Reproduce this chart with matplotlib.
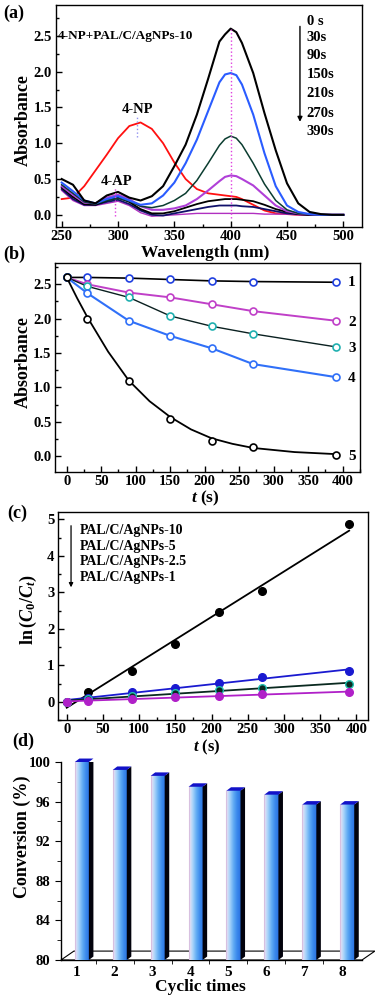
import numpy as np
import matplotlib
matplotlib.use('Agg')
import matplotlib.pyplot as plt
from matplotlib.patches import Polygon
from matplotlib.colors import LinearSegmentedColormap
from matplotlib.ticker import MultipleLocator, FixedLocator

plt.rcParams['font.family'] = 'Liberation Serif'
plt.rcParams['font.weight'] = 'bold'
plt.rcParams['mathtext.fontset'] = 'custom'
plt.rcParams['mathtext.rm'] = 'Liberation Serif:bold'
plt.rcParams['mathtext.it'] = 'Liberation Serif:italic:bold'
plt.rcParams['axes.linewidth'] = 1.0

# ---- (a) UV-vis spectra
wl = [250, 260, 270, 280, 290, 300, 310, 320, 330, 340, 350, 360, 370, 380, 390,
      395, 400, 405, 410, 420, 430, 440, 450, 460, 470, 480, 490, 500]
abs_4np = [0.22, 0.24, 0.40, 0.62, 0.84, 1.07, 1.24, 1.29, 1.20, 1.00, 0.73, 0.50, 0.36, 0.30, 0.28,
           0.27, 0.26, 0.25, 0.22, 0.14, 0.06, 0.02, 0.01, 0, 0, 0, 0, 0]
abs_0s = [0.50, 0.42, 0.20, 0.16, 0.27, 0.32, 0.24, 0.20, 0.26, 0.40, 0.68, 0.98, 1.40, 1.90, 2.42,
          2.52, 2.60, 2.55, 2.40, 1.98, 1.42, 0.90, 0.44, 0.16, 0.04, 0.01, 0, 0]
abs_30s = [0.45, 0.33, 0.20, 0.16, 0.22, 0.26, 0.20, 0.14, 0.16, 0.27, 0.45, 0.72, 1.05, 1.45, 1.85,
           1.96, 1.98, 1.95, 1.82, 1.40, 0.86, 0.40, 0.13, 0.04, 0.01, 0, 0, 0]
abs_90s = [0.42, 0.30, 0.18, 0.15, 0.20, 0.23, 0.19, 0.12, 0.10, 0.13, 0.20, 0.30, 0.48, 0.72, 0.97,
           1.06, 1.10, 1.07, 0.98, 0.72, 0.43, 0.20, 0.07, 0.02, 0.01, 0, 0, 0]
abs_150s = [0.40, 0.28, 0.17, 0.16, 0.24, 0.28, 0.22, 0.12, 0.07, 0.07, 0.09, 0.13, 0.22, 0.34, 0.47,
            0.53, 0.55, 0.54, 0.50, 0.41, 0.27, 0.13, 0.05, 0.02, 0.01, 0, 0, 0]
abs_210s = [0.38, 0.25, 0.15, 0.14, 0.20, 0.24, 0.18, 0.08, 0.02, 0.02, 0.05, 0.10, 0.15, 0.19, 0.21,
            0.22, 0.22, 0.22, 0.21, 0.19, 0.14, 0.08, 0.04, 0.01, 0, 0, 0, 0]
abs_270s = [0.36, 0.22, 0.14, 0.14, 0.18, 0.21, 0.15, 0.06, 0.00, -0.01, 0.02, 0.05, 0.08, 0.11, 0.13,
            0.13, 0.13, 0.13, 0.12, 0.11, 0.08, 0.05, 0.02, 0.01, 0, 0, 0, 0]
abs_390s = [0.34, 0.20, 0.13, 0.13, 0.16, 0.19, 0.13, 0.03, -0.02, -0.01, 0.00, 0.01, 0.02, 0.02, 0.02,
            0.02, 0.02, 0.02, 0.02, 0.02, 0.01, 0.01, 0.01, 0, 0, 0, 0, 0]
time_labels = ['0 s', '30s', '90s', '150s', '210s', '270s', '390s']

# ---- (b) absorbance at 400 nm vs time
t = [0, 30, 90, 150, 210, 270, 390]
a1 = [2.60, 2.60, 2.59, 2.57, 2.55, 2.54, 2.53]
a2 = [2.60, 2.50, 2.38, 2.31, 2.21, 2.11, 1.97]
a3 = [2.60, 2.47, 2.31, 2.04, 1.89, 1.78, 1.59]
a4 = [2.60, 2.37, 1.97, 1.75, 1.57, 1.34, 1.15]
a5 = [2.60, 1.99, 1.10, 0.54, 0.22, 0.13, 0.02]
t_fit5 = [0, 15, 30, 60, 90, 120, 150, 180, 210, 240, 270, 330, 390]
a_fit5 = [2.60, 2.30, 2.02, 1.52, 1.10, 0.80, 0.57, 0.39, 0.26, 0.18, 0.12, 0.06, 0.03]

# ---- (c) ln(C0/Ct) vs time
t_c = [0, 30, 90, 150, 210, 270, 390]
ln_10 = [0.0, 0.26, 0.85, 1.57, 2.46, 3.03, 4.87]
ln_5 = [0.0, 0.10, 0.28, 0.39, 0.51, 0.67, 0.84]
ln_25 = [0.0, 0.07, 0.15, 0.25, 0.31, 0.37, 0.50]
ln_1 = [0.0, 0.03, 0.08, 0.12, 0.16, 0.20, 0.27]
samples = ['PAL/C/AgNPs-10', 'PAL/C/AgNPs-5', 'PAL/C/AgNPs-2.5', 'PAL/C/AgNPs-1']

# ---- (d) recycling
cycles = [1, 2, 3, 4, 5, 6, 7, 8]
conversion = [100.0, 99.2, 98.6, 97.5, 97.1, 96.7, 95.7, 95.7]


def box(l, t_, r, b):
    return [l / 375, 1 - b / 997, (r - l) / 375, (b - t_) / 997]


def style(ax):
    ax.tick_params(which='both', direction='in', labelsize=10.5, width=1, pad=2.5)
    ax.tick_params(which='major', length=4)
    ax.tick_params(which='minor', length=2)
    for lab in ax.get_xticklabels() + ax.get_yticklabels():
        lab.set_fontweight('bold')


fig = plt.figure(figsize=(3.75, 9.97), dpi=100)

# (a)
ax = fig.add_axes(box(55.5, 5, 361.7, 227))
ax.plot(wl, abs_4np, color='#ff1010', lw=1.3)
ax.plot(wl, abs_390s, color='#b030c0', lw=1.0)
ax.plot(wl, abs_270s, color='#10106a', lw=1.3)
ax.plot(wl, abs_210s, color='black', lw=1.3)
ax.plot(wl, abs_150s, color='#b040d8', lw=1.5)
ax.plot(wl, abs_90s, color='#0b3d30', lw=1.1)
ax.plot(wl, abs_30s, color='#2a5cff', lw=1.5)
ax.plot(wl, abs_0s, color='black', lw=1.5)
ax.plot([400, 400], [-0.05, 2.6], color='#e040e0', lw=1, ls=':')
ax.plot([317, 317], [1.08, 1.38], color='#9090f0', lw=1, ls=':')
ax.plot([297, 297], [-0.01, 0.37], color='#e040e0', lw=1, ls=':')
ax.text(246.5, 2.5, '4-NP+PAL/C/AgNPs-10', fontsize=9.5, va='center', ha='left')
ax.text(317.5, 1.47, '4-NP', fontsize=10.5, ha='center', va='center')
ax.text(299, 0.46, '4-AP', fontsize=10.5, ha='center', va='center')
for lab, y in zip(time_labels, [2.70, 2.47, 2.23, 1.96, 1.69, 1.41, 1.16]):
    ax.text(467.5, y, lab, fontsize=10.5, ha='left', va='center')
ax.annotate('', xy=(461.5, 1.26), xytext=(461.5, 2.67),
            arrowprops=dict(arrowstyle='-|>', color='black', lw=1, mutation_scale=7))
ax.set_xlim(244.5, 516.3)
ax.set_ylim(-0.17, 2.93)
ax.xaxis.set_major_locator(MultipleLocator(50))
ax.xaxis.set_minor_locator(MultipleLocator(25))
ax.yaxis.set_major_locator(MultipleLocator(0.5))
ax.yaxis.set_minor_locator(MultipleLocator(0.25))
ax.yaxis.set_major_formatter('{x:.1f}')
style(ax)
fig.text(23 / 375, 1 - 120 / 997, 'Absorbance', rotation=90, fontsize=13, ha='center', va='center')
fig.text(205 / 375, 1 - 253 / 997, 'Wavelength (nm)', fontsize=12.5, ha='center', va='center')
fig.text(3 / 375, 1 - 13 / 997, '(a)', fontsize=13, ha='left', va='center')

# (b)
ax = fig.add_axes(box(55, 263, 360, 472))
ax.plot(t, a1, color='black', lw=1.2, marker='o', ms=5, mfc='white', mec='#2040e0', mew=1.2)
ax.plot(t, a2, color='#c040c8', lw=1.4, marker='o', ms=5, mfc='white', mec='#c040c8', mew=1.2)
ax.plot(t, a3, color='#0a2020', lw=1.0, marker='o', ms=5, mfc='white', mec='#20b0b0', mew=1.2)
ax.plot(t, a4, color='#3070f8', lw=1.5, marker='o', ms=5, mfc='white', mec='#3070f8', mew=1.2)
ax.plot(t_fit5, a_fit5, color='black', lw=1.3)
ax.plot(t, a5, ls='none', marker='o', ms=5, mfc='white', mec='black', mew=1.2)
for lab, y in zip(['1', '2', '3', '4', '5'], [2.53, 1.95, 1.56, 1.13, 0.0]):
    ax.text(413, y, lab, fontsize=11, ha='center', va='center')
ax.set_xlim(-17, 425)
ax.set_ylim(-0.23, 2.81)
ax.xaxis.set_major_locator(MultipleLocator(50))
ax.xaxis.set_minor_locator(MultipleLocator(25))
ax.yaxis.set_major_locator(MultipleLocator(0.5))
ax.yaxis.set_minor_locator(MultipleLocator(0.25))
ax.yaxis.set_major_formatter('{x:.1f}')
style(ax)
fig.text(23 / 375, 1 - 362 / 997, 'Absorbance', rotation=90, fontsize=13, ha='center', va='center')
fig.text(205 / 375, 1 - 498 / 997, r'$t$ (s)', fontsize=12.5, ha='center', va='center')
fig.text(3 / 375, 1 - 254 / 997, '(b)', fontsize=13, ha='left', va='center')

# (c)
ax = fig.add_axes(box(58, 512, 368, 720))
series_c = [(ln_10, 'black', 'black'), (ln_5, '#1a1ad0', '#1a1ad0'),
            (ln_25, '#0a2a20', '#20c0b0'), (ln_1, '#b020c8', '#b020c8')]
for vals, lc, mc in series_c:
    k, b0 = np.polyfit(t_c, vals, 1)
    ax.plot([0, 390], [b0, b0 + k * 390], color=lc, lw=1.3)
for vals, lc, mc in series_c:
    ax.plot(t_c, vals, ls='none', marker='o', ms=5.5, mfc=lc, mec=mc, mew=1.0)
for lab, y in zip(samples, [4.69, 4.25, 3.84, 3.40]):
    ax.text(18, y, lab, fontsize=10, ha='left', va='center')
ax.annotate('', xy=(6, 3.06), xytext=(6, 4.9),
            arrowprops=dict(arrowstyle='-|>', color='black', lw=0.9, mutation_scale=6))
ax.set_xlim(-12, 416)
ax.set_ylim(-0.5, 5.2)
ax.xaxis.set_major_locator(MultipleLocator(50))
ax.xaxis.set_minor_locator(MultipleLocator(25))
ax.yaxis.set_major_locator(MultipleLocator(1))
ax.yaxis.set_minor_locator(MultipleLocator(0.5))
style(ax)
fig.text(28 / 375, 1 - 610 / 997, r'ln$\,$($C_0$/$C_t$)', rotation=90, fontsize=13, ha='center', va='center')
fig.text(207 / 375, 1 - 747 / 997, r'$t$ (s)', fontsize=12, ha='center', va='center')
fig.text(7 / 375, 1 - 513 / 997, '(c)', fontsize=13, ha='left', va='center')

# (d) pseudo-3D bars
ax = fig.add_axes(box(61, 762, 362, 960))
x_lo, x_hi = 0.585, 8.525
dxf, dyf = 0.34, 0.9
ax.add_patch(Polygon([(x_lo, 80), (x_hi, 80), (x_hi + dxf, 80 + dyf), (x_lo + dxf, 80 + dyf)],
                     closed=True, fc='white', ec='black', lw=0.8, clip_on=False, zorder=1))
cmap = LinearSegmentedColormap.from_list('bar', ['#f2e2f4', '#a8d4fa', '#62acf4', '#3a88ec', '#2a70e0'])
grad = np.linspace(0, 1, 64)[None, :]
dxb, dyb = 0.12, 0.35
for c, v in zip(cycles, conversion):
    x0, x1 = c - 0.05, c + 0.32
    ax.imshow(grad, cmap=cmap, extent=(x0, x1, 80, v), aspect='auto', zorder=3,
              interpolation='bilinear')
    ax.add_patch(Polygon([(x1, 80), (x1 + dxb, 80 + dyb), (x1 + dxb, v + dyb), (x1, v)],
                         closed=True, fc='#02020c', ec='none', zorder=3))
    ax.add_patch(Polygon([(x0, v), (x0 + dxb, v + dyb), (x1 + dxb, v + dyb), (x1, v)],
                         closed=True, fc='#1212c8', ec='none', zorder=3, clip_on=False))
    ax.plot([x0, x0], [80, v], color='#d8c0e0', lw=0.8, zorder=4)
ax.set_xlim(x_lo, x_hi)
ax.set_ylim(80, 100)
ax.spines['top'].set_visible(False)
ax.spines['right'].set_visible(False)
ax.xaxis.set_major_locator(FixedLocator(cycles))
ax.xaxis.set_minor_locator(FixedLocator([c + 0.5 for c in cycles[:-1]]))
ax.yaxis.set_major_locator(MultipleLocator(4))
ax.yaxis.set_minor_locator(MultipleLocator(2))
ax.tick_params(axis='x', which='major', length=0, labelsize=11, pad=4)
ax.tick_params(axis='x', which='minor', length=3, direction='out')
ax.tick_params(axis='y', which='major', length=4, direction='out', labelsize=10.5)
ax.tick_params(axis='y', which='minor', length=3, direction='out')
for lab in ax.get_xticklabels() + ax.get_yticklabels():
    lab.set_fontweight('bold')
fig.text(22 / 375, 1 - 837 / 997, 'Conversion (%)', rotation=90, fontsize=13, ha='center', va='center')
fig.text(200 / 375, 1 - 987 / 997, 'Cyclic times', fontsize=12.5, ha='center', va='center')
fig.text(12 / 375, 1 - 741 / 997, '(d)', fontsize=13, ha='left', va='center')

fig.savefig('out.png', dpi=100)
